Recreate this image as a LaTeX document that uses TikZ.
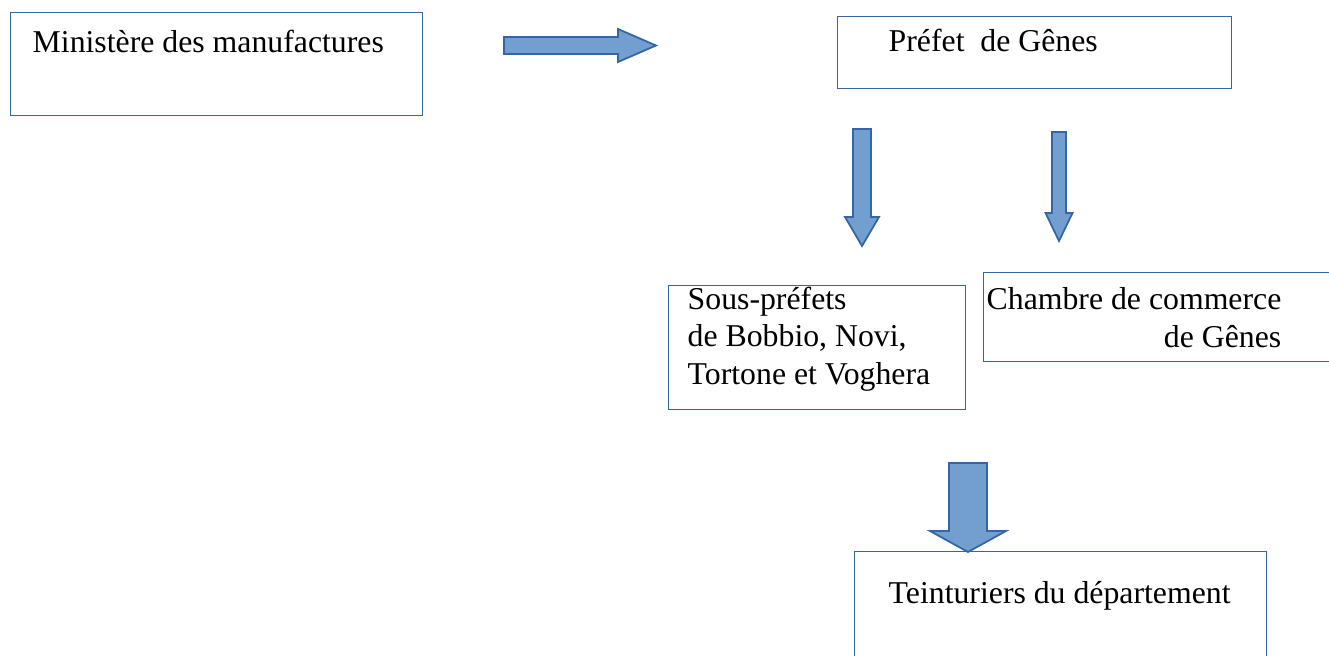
\documentclass[tikz,border=0pt]{standalone}
\usepackage{fontspec}
\setmainfont{Liberation Serif}
\usetikzlibrary{calc}
\definecolor{boxline}{HTML}{3465A4}
\definecolor{arrowfill}{HTML}{729FCF}
\tikzset{
    box/.style = {rectangle, draw=boxline, line width=0.4pt, anchor=north west, inner sep=0pt},
    boxtext/.style = {inner sep=0pt, font=\fontsize{9.04}{10.53}\selectfont},
    blockarrow/.style = {fill=arrowfill, draw=boxline, line width=0.5pt, line join=miter}
}
% tail, tip, half shaft, half head, head length
\newcommand{\blockarrow}[5]{%
  \coordinate (hb) at ($(#2)!#5!(#1)$);
  \draw[blockarrow] ($(#1)!#3!90:(#2)$) -- ($(hb)!#3!90:(#2)$) -- ($(hb)!#4!90:(#2)$) -- (#2)
    -- ($(hb)!#4!-90:(#2)$) -- ($(hb)!#3!-90:(#2)$) -- ($(#1)!#3!-90:(#2)$) -- cycle;
}

\begin{document}
\begin{tikzpicture}
\useasboundingbox (0,0) rectangle (13.29,6.55);
\clip (0,0) rectangle (13.29,6.55);
%
\node[box, minimum width=4.12cm, minimum height=1.03cm] at (0.10,6.43) (mini) {};
\node[box, minimum width=3.94cm, minimum height=0.72cm] at (8.37,6.39) (pref) {};
\node[box, minimum width=2.97cm, minimum height=1.24cm] at (6.68,3.70) (sous) {};
\node[box, minimum width=3.60cm, minimum height=0.89cm] at (9.83,3.83) (cham) {};
\node[box, minimum width=4.12cm, minimum height=1.20cm] at (8.54,1.04) (tein) {};
%
\node[boxtext, anchor=base west] at (0.32,6.02) (minit) {Ministère des manufactures};
\node[boxtext, anchor=base west] at (8.88,6.03) (preft) {Préfet\ \ de Gênes};
\node[boxtext, anchor=base west, align=left] at (6.87,2.71) (soust) {Sous-préfets\\de Bobbio, Novi,\\Tortone et Voghera};
\node[boxtext, anchor=base east, align=right] at (12.82,3.08) (chamt) {Chambre de commerce\\de Gênes};
\node[boxtext, anchor=base west] at (8.88,0.52) (teint) {Teinturiers du département};
%
\coordinate (a1t) at (5.04,6.095);
\coordinate (a1h) at (6.56,6.095);
\coordinate (a2t) at (8.62,5.26);
\coordinate (a2h) at (8.62,4.09);
\coordinate (a3t) at (10.59,5.23);
\coordinate (a3h) at (10.59,4.14);
\coordinate (a4t) at (9.68,1.92);
\coordinate (a4h) at (9.68,1.03);
%
\blockarrow{a1t}{a1h}{0.085cm}{0.165cm}{0.38cm}
\blockarrow{a2t}{a2h}{0.09cm}{0.17cm}{0.29cm}
\blockarrow{a3t}{a3h}{0.07cm}{0.135cm}{0.28cm}
\blockarrow{a4t}{a4h}{0.19cm}{0.38cm}{0.21cm}

\end{tikzpicture}
\end{document}
